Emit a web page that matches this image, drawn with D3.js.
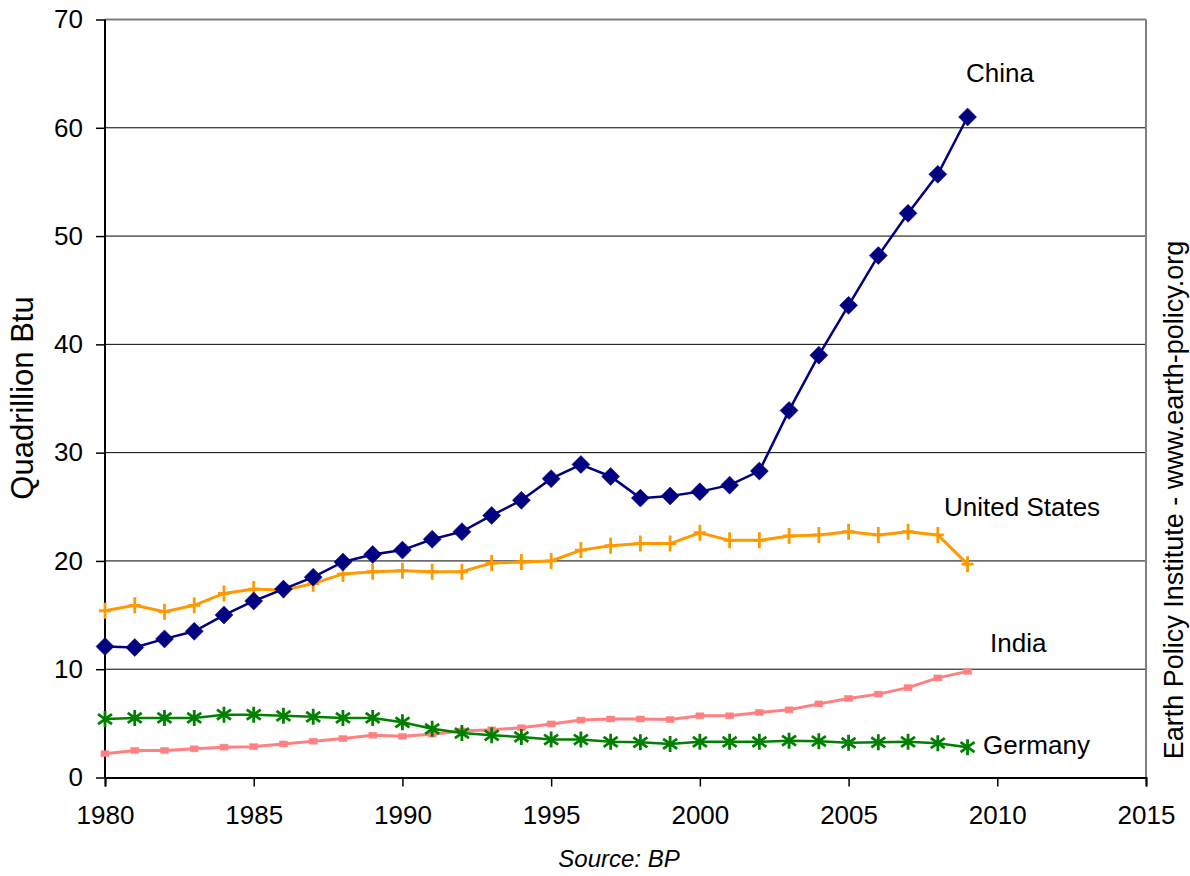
<!DOCTYPE html>
<html>
<head>
<meta charset="utf-8">
<script src="https://cdn.jsdelivr.net/npm/d3@7"></script>
<style>
  body { margin: 0; background: #fff; }
  text { font-family: "Liberation Sans", Arial, sans-serif; fill: #000; }
</style>
</head>
<body>
<svg id="chart" width="1190" height="876"></svg>
<script>
// coal consumption, quadrillion Btu
var years = d3.range(1980, 2010);
var china = [12.1, 12.0, 12.8, 13.5, 15.0, 16.3, 17.4, 18.5, 19.9, 20.6, 21.0, 22.0, 22.7, 24.2, 25.6,
             27.6, 28.9, 27.8, 25.8, 26.0, 26.4, 27.0, 28.3, 33.9, 39.0, 43.6, 48.2, 52.1, 55.7, 61.0];
var unitedStates = [15.4, 15.9, 15.3, 15.9, 17.0, 17.4, 17.3, 17.9, 18.8, 19.0, 19.1, 19.0, 19.0, 19.8, 19.9,
                    20.0, 21.0, 21.4, 21.6, 21.6, 22.6, 21.9, 21.9, 22.3, 22.4, 22.7, 22.4, 22.7, 22.4, 19.7];
var india = [2.2, 2.5, 2.5, 2.65, 2.8, 2.85, 3.1, 3.35, 3.6, 3.9, 3.8, 4.0, 4.3, 4.4, 4.6,
             4.95, 5.3, 5.4, 5.4, 5.35, 5.7, 5.7, 6.0, 6.25, 6.8, 7.3, 7.7, 8.3, 9.2, 9.8];
var germany = [5.4, 5.5, 5.5, 5.5, 5.8, 5.8, 5.7, 5.6, 5.5, 5.5, 5.1, 4.5, 4.1, 3.9, 3.75,
               3.5, 3.5, 3.3, 3.25, 3.1, 3.3, 3.3, 3.3, 3.4, 3.35, 3.2, 3.25, 3.3, 3.17, 2.8];

var xTicks = [1980, 1985, 1990, 1995, 2000, 2005, 2010, 2015];
var yTicks = [0, 10, 20, 30, 40, 50, 60, 70];

var series = [
  {name: "India", values: india, color: "#ff8080", marker: "square", width: 3},
  {name: "Germany", values: germany, color: "#008000", marker: "star", width: 2.5},
  {name: "United States", values: unitedStates, color: "#ff9900", marker: "plus", width: 3},
  {name: "China", values: china, color: "#000080", marker: "diamond", width: 2.5}
];
// where the name sits
var labelPos = {
  "China": [966, 82],
  "United States": [944, 516],
  "India": [990, 652],
  "Germany": [983, 754]
};

var box = {left: 105, top: 19.5, right: 1146, bottom: 777.5};
var svg = d3.select("#chart");

var x = d3.scaleLinear().domain([1980, 2015]).range([box.left, box.right]);
var y = d3.scaleLinear().domain([0, 70]).range([box.bottom, box.top]);

// gridlines
svg.append("g")
  .selectAll("line")
  .data(yTicks.slice(1, -1))
  .enter()
  .append("line")
  .attr("x1", box.left).attr("x2", box.right)
  .attr("y1", function(d) { return y(d); })
  .attr("y2", function(d) { return y(d); })
  .attr("stroke", "#000").attr("stroke-width", 1);

// gray frame top/right
svg.append("line").attr("x1", box.left).attr("x2", box.right)
  .attr("y1", box.top).attr("y2", box.top).attr("stroke", "#808080").attr("stroke-width", 2);
svg.append("line").attr("x1", box.right).attr("x2", box.right)
  .attr("y1", box.top).attr("y2", box.bottom).attr("stroke", "#808080").attr("stroke-width", 2);

var yAxis = svg.append("g")
  .attr("transform", "translate(" + box.left + ",0)")
  .call(d3.axisLeft(y).tickValues(yTicks).tickSize(9).tickPadding(13).tickFormat(d3.format("d")));
var xAxis = svg.append("g")
  .attr("transform", "translate(0," + box.bottom + ")")
  .call(d3.axisBottom(x).tickValues(xTicks).tickSize(9).tickPadding(19).tickFormat(d3.format("d")));

[yAxis, xAxis].forEach(function(ax) {
  ax.select(".domain").attr("stroke", "#000").attr("stroke-width", 2);
  ax.selectAll(".tick line").attr("stroke", "#000").attr("stroke-width", 1.5);
  ax.selectAll("text").attr("font-size", 26).attr("font-family", "Liberation Sans, Arial, sans-serif");
});
yAxis.select(".domain").attr("d", "M0," + box.bottom + "V" + box.top);

var line = d3.line()
  .x(function(d) { return x(d.year); })
  .y(function(d) { return y(d.value); });

function markerPath(type) {
  if (type == "diamond") return "M0,-9L9,0L0,9L-9,0Z";
  if (type == "square") return "M-4,-3H4V3H-4Z";
  if (type == "plus") return "M0,-8V8M-6,0H6";
  return "M0,-8V8M-7,-5L7,5M-7,5L7,-5";
}

series.forEach(function(s) {
  var pts = years.map(function(yr, i) { return {year: yr, value: s.values[i]}; });
  var g = svg.append("g");
  g.append("path")
    .datum(pts)
    .attr("d", line)
    .attr("fill", "none")
    .attr("stroke", s.color)
    .attr("stroke-width", s.width);
  g.selectAll(".mk")
    .data(pts)
    .enter()
    .append("path")
    .attr("class", "mk")
    .attr("transform", function(d) { return "translate(" + x(d.year) + "," + y(d.value) + ")"; })
    .attr("d", markerPath(s.marker))
    .attr("fill", s.marker == "diamond" || s.marker == "square" ? s.color : "none")
    .attr("stroke", s.color)
    .attr("stroke-width", s.marker == "diamond" || s.marker == "square" ? 0.5 : 2.8);

  svg.append("text")
    .attr("x", labelPos[s.name][0])
    .attr("y", labelPos[s.name][1])
    .attr("font-size", 26)
    .text(s.name);
});

// axis title
svg.append("text")
  .attr("transform", "translate(33,398) rotate(-90)")
  .attr("text-anchor", "middle")
  .attr("font-size", 31)
  .text("Quadrillion Btu");

svg.append("text")
  .attr("transform", "translate(1183,500) rotate(-90)")
  .attr("text-anchor", "middle")
  .attr("font-size", 27)
  .text("Earth Policy Institute - www.earth-policy.org");

svg.append("text")
  .attr("x", 619)
  .attr("y", 867)
  .attr("text-anchor", "middle")
  .attr("font-size", 24)
  .attr("font-style", "italic")
  .text("Source: BP");
</script>
</body>
</html>
